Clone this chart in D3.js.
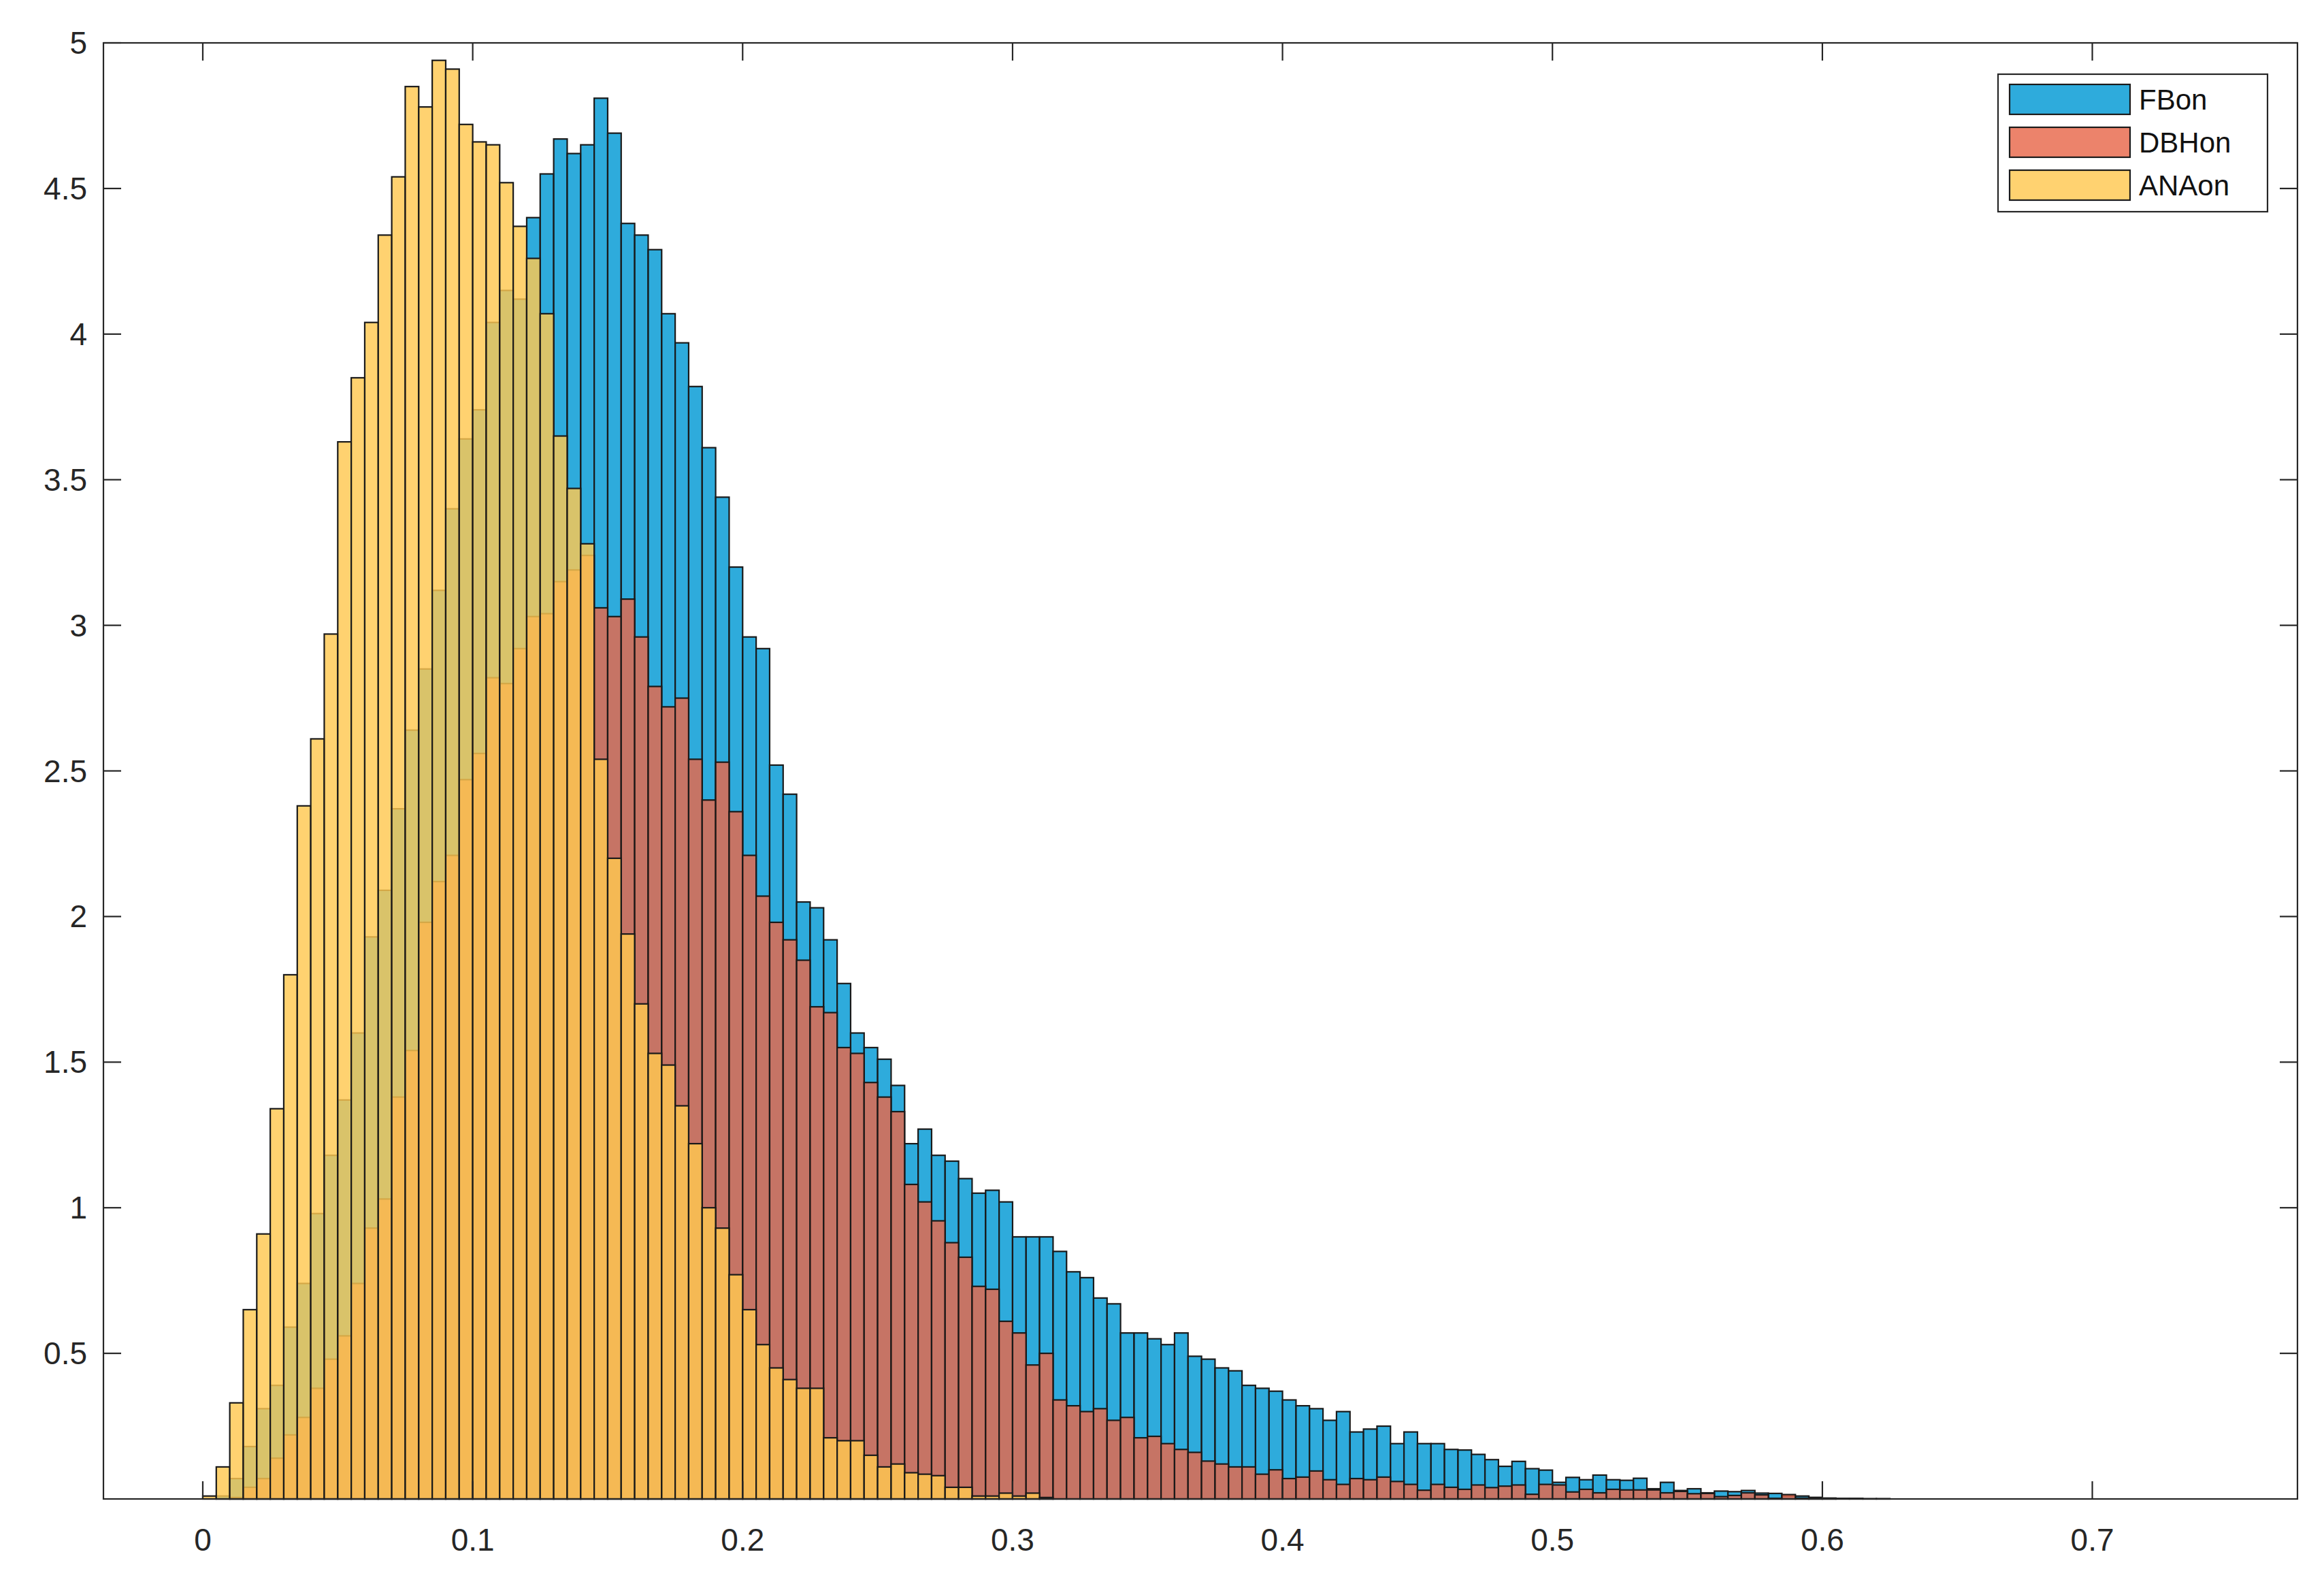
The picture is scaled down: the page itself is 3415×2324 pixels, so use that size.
<!DOCTYPE html>
<html><head><meta charset="utf-8">
<script src="https://cdn.jsdelivr.net/npm/d3@7"></script>
<style>body{margin:0;background:#fff}svg{display:block}</style>
</head><body>
<script>
const binWidth = 0.005;
const seriesNames = ["FBon","DBHon","ANAon"];
const FBon = [0,0.01,0.07,0.18,0.31,0.39,0.59,0.74,0.98,1.18,1.37,1.60,1.93,2.09,2.37,2.64,2.85,3.12,3.40,3.64,3.74,4.04,4.15,4.12,4.40,4.55,4.67,4.62,4.65,4.81,4.69,4.38,4.34,4.29,4.07,3.97,3.82,3.61,3.44,3.20,2.96,2.92,2.52,2.42,2.05,2.03,1.92,1.77,1.60,1.55,1.51,1.42,1.22,1.27,1.18,1.16,1.10,1.05,1.06,1.02,0.90,0.90,0.90,0.85,0.78,0.76,0.69,0.67,0.57,0.57,0.55,0.53,0.57,0.49,0.48,0.45,0.44,0.39,0.38,0.37,0.34,0.32,0.31,0.27,0.30,0.23,0.24,0.25,0.19,0.23,0.19,0.19,0.17,0.168,0.153,0.135,0.112,0.129,0.104,0.099,0.057,0.074,0.066,0.082,0.066,0.064,0.071,0.035,0.057,0.029,0.035,0.021,0.027,0.025,0.029,0.02,0.019,0.01,0.01,0.005,0.003,0.002,0.002,0.001,0.001];
const DBHon = [0,0,0.005,0.04,0.07,0.14,0.22,0.28,0.38,0.48,0.56,0.74,0.93,1.03,1.38,1.54,1.98,2.12,2.21,2.47,2.56,2.82,2.80,2.92,3.03,3.04,3.15,3.19,3.24,3.06,3.03,3.09,2.96,2.79,2.72,2.75,2.54,2.40,2.53,2.36,2.21,2.07,1.98,1.92,1.85,1.69,1.67,1.55,1.53,1.43,1.38,1.33,1.08,1.02,0.955,0.88,0.83,0.73,0.72,0.61,0.57,0.46,0.50,0.34,0.32,0.30,0.31,0.27,0.28,0.21,0.215,0.19,0.17,0.16,0.13,0.12,0.11,0.11,0.085,0.10,0.07,0.075,0.096,0.066,0.05,0.07,0.066,0.075,0.06,0.05,0.03,0.05,0.04,0.033,0.048,0.039,0.044,0.048,0.016,0.05,0.048,0.024,0.033,0.021,0.033,0.031,0.031,0.031,0.021,0.026,0.018,0.019,0.008,0.012,0.021,0.014,0.002,0.015,0.003,0.005,0.002];
const ANAon = [0.01,0.11,0.33,0.65,0.91,1.34,1.80,2.38,2.61,2.97,3.63,3.85,4.04,4.34,4.54,4.85,4.78,4.94,4.91,4.72,4.66,4.65,4.52,4.37,4.26,4.07,3.65,3.47,3.28,2.54,2.20,1.94,1.70,1.53,1.49,1.35,1.22,1.00,0.93,0.77,0.65,0.53,0.45,0.41,0.38,0.38,0.21,0.20,0.20,0.15,0.11,0.12,0.09,0.085,0.08,0.04,0.04,0.01,0.01,0.02,0.01,0.02,0.005];
const xTicks = [0,0.1,0.2,0.3,0.4,0.5,0.6,0.7];
const yTicks = [0.5,1,1.5,2,2.5,3,3.5,4,4.5,5];

const W=3415,H=2324;
const m={l:152,r:3376,t:63,b:2202};
const svg=d3.select("body").append("svg").attr("width",W).attr("height",H);
const x=d3.scaleLinear().domain([-0.0368,0.776]).range([m.l,m.r]);
const y=d3.scaleLinear().domain([0,5]).range([m.b,m.t]);
const colors={FBon:"#0099d4",DBHon:"#e8684a",ANAon:"#ffc850"};
const alpha=0.82;
const data={FBon,DBHon,ANAon};
const g=svg.append("g");
seriesNames.forEach(n=>{
  g.append("g").selectAll("rect").data(data[n]).join("rect")
   .attr("x",(d,i)=>x(i*binWidth)).attr("width",(d,i)=>x((i+1)*binWidth)-x(i*binWidth))
   .attr("y",d=>y(d)).attr("height",d=>y(0)-y(d))
   .attr("fill",colors[n]).attr("fill-opacity",alpha)
   .attr("stroke","#1a1a1a").attr("stroke-width",2.2);
});
// box
svg.append("rect").attr("x",m.l).attr("y",m.t).attr("width",m.r-m.l).attr("height",m.b-m.t)
  .attr("fill","none").attr("stroke","#262626").attr("stroke-width",2.2);
const tl=26, font="Liberation Sans, Arial, sans-serif";
const ax=svg.append("g").attr("stroke","#262626").attr("stroke-width",2.2);
xTicks.forEach(t=>{
  ax.append("line").attr("x1",x(t)).attr("x2",x(t)).attr("y1",m.b).attr("y2",m.b-tl);
  ax.append("line").attr("x1",x(t)).attr("x2",x(t)).attr("y1",m.t).attr("y2",m.t+tl);
});
yTicks.forEach(t=>{
  ax.append("line").attr("x1",m.l).attr("x2",m.l+tl).attr("y1",y(t)).attr("y2",y(t));
  ax.append("line").attr("x1",m.r).attr("x2",m.r-tl).attr("y1",y(t)).attr("y2",y(t));
});
svg.append("g").selectAll("text").data(xTicks).join("text")
  .attr("x",d=>x(d)).attr("y",m.b+76).attr("text-anchor","middle")
  .attr("font-family",font).attr("font-size",46).attr("fill","#262626").text(d=>d3.format("")(d));
svg.append("g").selectAll("text").data(yTicks).join("text")
  .attr("x",m.l-24).attr("y",d=>y(d)+16).attr("text-anchor","end")
  .attr("font-family",font).attr("font-size",46).attr("fill","#262626").text(d=>d);
// legend
const lg=svg.append("g");
lg.append("rect").attr("x",2936).attr("y",109).attr("width",396).attr("height",202)
  .attr("fill","#fff").attr("stroke","#262626").attr("stroke-width",2.2);
seriesNames.forEach((n,i)=>{
  const cy=146+i*63;
  lg.append("rect").attr("x",2953).attr("y",cy-22).attr("width",177).attr("height",44)
    .attr("fill",colors[n]).attr("fill-opacity",alpha).attr("stroke","#1a1a1a").attr("stroke-width",2.2);
  lg.append("text").attr("x",3143).attr("y",cy+15).attr("font-family",font).attr("font-size",42)
    .attr("fill","#111").text(n);
});
</script>
</body></html>
